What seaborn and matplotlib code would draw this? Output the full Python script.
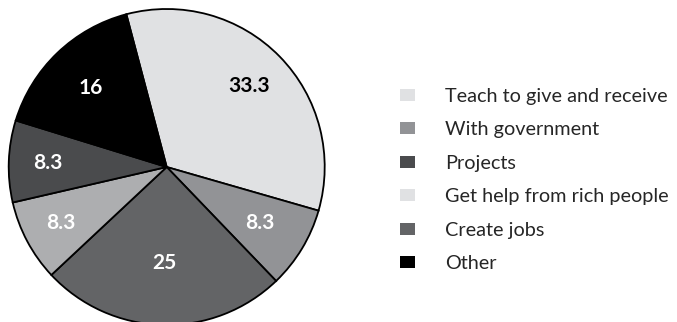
import matplotlib
matplotlib.use("Agg")
import matplotlib.pyplot as plt
from matplotlib.patches import Patch
import seaborn as sns

# Answers, in the clockwise order of the pie
categories = ["Teach to give and receive", "With government", "Create jobs",
              "Get help from rich people", "Projects", "Other"]
values = [33.3, 8.3, 25, 8.3, 8.3, 16]
value_labels = ["33.3", "8.3", "25", "8.3", "8.3", "16"]

# Order in which the key lists the answers
legend_order = ["Teach to give and receive", "With government", "Projects",
                "Get help from rich people", "Create jobs", "Other"]

slice_colors = {
    "Teach to give and receive": "#e0e1e3",
    "With government": "#929396",
    "Create jobs": "#636466",
    "Get help from rich people": "#adaeb0",
    "Projects": "#4a4b4d",
    "Other": "#000000",
}
key_colors = {
    "Teach to give and receive": "#e0e1e3",
    "With government": "#929396",
    "Projects": "#4a4b4d",
    "Get help from rich people": "#e0e1e3",
    "Create jobs": "#636466",
    "Other": "#000000",
}
text_colors = ["black", "white", "white", "white", "white", "white"]
# radial position of each value label, as a fraction of the radius
label_radii = [0.73, 0.69, 0.61, 0.76, 0.75, 0.69]

sns.set_theme(style="white")
plt.rcParams["font.family"] = ["Lato", "DejaVu Sans"]

W, H, DPI = 677, 322, 100
fig = plt.figure(figsize=(W / DPI, H / DPI), dpi=DPI)

# Pie axes: centre and radius in pixels
cx, cy, r = 166.7, 167.0, 158.0
lim = 1.02
half = r * lim
ax = fig.add_axes([(cx - half) / W, (H - cy - half) / H, 2 * half / W, 2 * half / H])

wedges, texts = ax.pie(
    values,
    colors=[slice_colors[c] for c in categories],
    startangle=104.8,
    counterclock=False,
    labels=value_labels,
    labeldistance=0.7,
    wedgeprops=dict(edgecolor="black", linewidth=1.3),
    textprops=dict(fontsize=15, fontweight="bold", ha="center", va="center"),
)
for t, col, rad in zip(texts, text_colors, label_radii):
    x, y = t.get_position()
    scale = rad / 0.7
    t.set_position((x * scale, y * scale))
    t.set_color(col)
    t.set_horizontalalignment("center")
ax.set_xlim(-lim, lim)
ax.set_ylim(-lim, lim)
ax.set_aspect("equal")
ax.axis("off")

handles = [Patch(facecolor=key_colors[c], edgecolor="none") for c in legend_order]
fig.legend(
    handles, legend_order,
    loc="center left",
    bbox_to_anchor=(382.5 / W, 1 - 180 / H),
    frameon=False,
    fontsize=14.3,
    handlelength=0.75,
    handleheight=0.55,
    handletextpad=1.5,
    labelspacing=0.83,
)

fig.savefig("out.png", dpi=DPI, facecolor="white")
